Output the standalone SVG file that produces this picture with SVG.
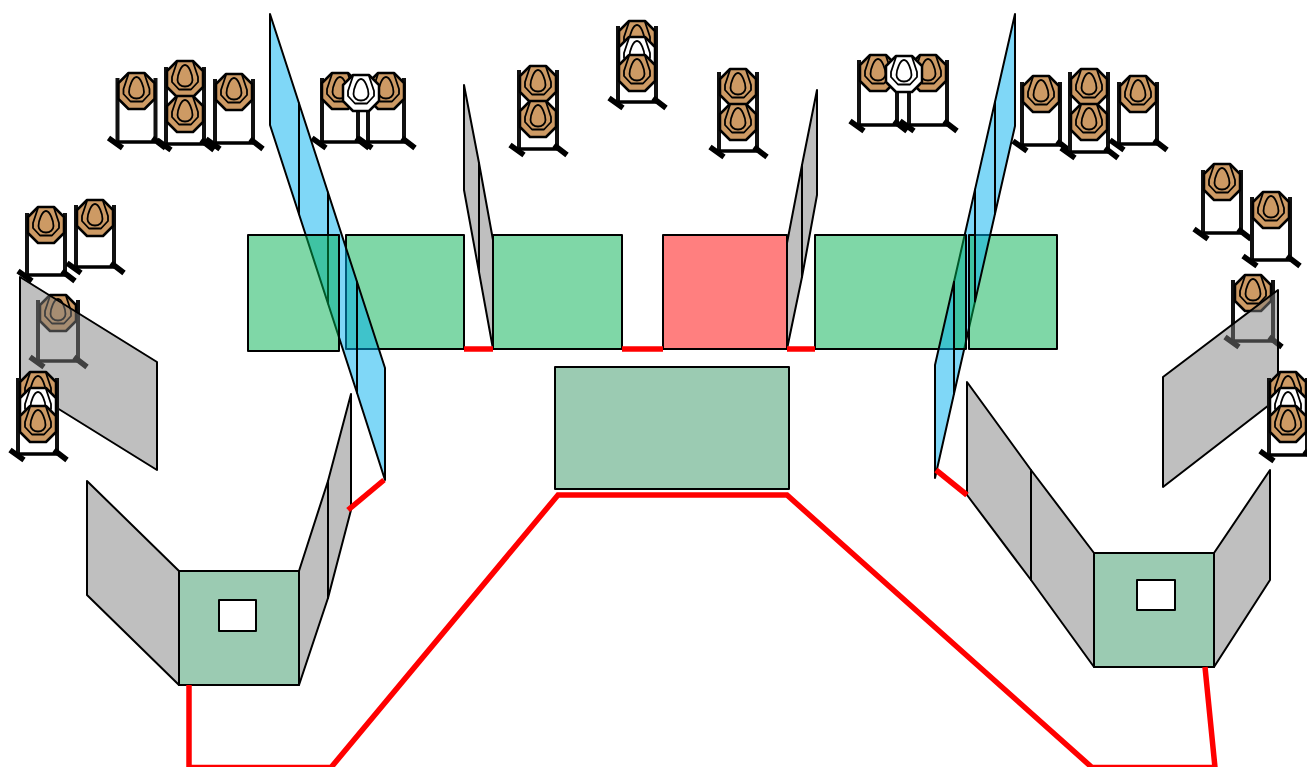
<svg xmlns="http://www.w3.org/2000/svg" xmlns:xlink="http://www.w3.org/1999/xlink" width="1307" height="767" viewBox="0 0 1307 767">
<style>
.panel{stroke:#000;stroke-width:2;stroke-linejoin:round}
.gray{fill:#808080;fill-opacity:.5}
.green{fill:#00b050;fill-opacity:.5}
.teal{fill:#9bcbb2}
.blue{fill:#00aff0;fill-opacity:.5}
.red{fill:#ff0000;fill-opacity:.5}
.win{fill:#fff}
.post{fill:none;stroke:#111;stroke-width:4}
.bar{fill:none;stroke:#000;stroke-width:3.500}
.foot{fill:none;stroke:#000;stroke-width:5.500}
.oct{stroke:#000;stroke-width:2.500;stroke-linejoin:round}
.in{fill:none;stroke:#000;stroke-width:1.800;stroke-linejoin:round}
.wire{fill:none;stroke:#ff0000;stroke-width:5.500}
</style>
<defs>
<g id="base">
<path class="bar" d="M-19,-1H19"/>
<path class="foot" d="M-28,-5L-14,5M16,-5L29,5"/>
</g>
<g id="plate">
<path class="oct" fill="#cd9a64" d="M-8,-17H8L18,-7V9L8,19H-8L-18,9V-7Z"/>
<path class="in" d="M-8,-16L-13,-1V4L-6,11.500H6L13,4V-1L8,-16"/>
<path class="in" d="M0,-13C-4,-13-7.500,-3-7.500,2C-7.500,6-4,8.500 0,8.500C4,8.500 7.500,6 7.500,2C7.500,-3 4,-13 0,-13Z"/>
</g>
<g id="wplate">
<path class="oct" fill="#fff" d="M-8,-17H8L18,-7V9L8,19H-8L-18,9V-7Z"/>
<path class="in" d="M-8,-16L-13,-1V4L-6,11.500H6L13,4V-1L8,-16"/>
<path class="in" d="M0,-13C-4,-13-7.500,-3-7.500,2C-7.500,6-4,8.500 0,8.500C4,8.500 7.500,6 7.500,2C7.500,-3 4,-13 0,-13Z"/>
</g>
</defs>

<g id="target-tl1" transform="translate(136.500,143)"><path class="post" d="M-19,-65V0M19,-65V0"/><use href="#base"/><use href="#plate" y="-53"/></g>
<g id="target-tl2" transform="translate(185,145)"><path class="post" d="M-19,-78V0M19,-78V0"/><use href="#base"/><use href="#plate" y="-67"/><use href="#plate" y="-32"/></g>
<g id="target-tl3" transform="translate(234,144)"><path class="post" d="M-19,-65V0M19,-65V0"/><use href="#base"/><use href="#plate" y="-53"/></g>
<g id="target-a" transform="translate(340,143)"><path class="post" d="M-18,-65V0M18,-65V0"/><use href="#base"/><use href="#plate" y="-53"/></g>
<g id="target-b" transform="translate(386,143)"><path class="post" d="M-18,-65V0M18,-65V0"/><use href="#base"/><use href="#plate" y="-53"/></g>
<g id="target-ab-white" transform="translate(361,92)"><use href="#wplate"/></g>
<g id="target-m1" transform="translate(538,150)"><path class="post" d="M-19,-80V0M19,-80V0"/><use href="#base"/><use href="#plate" y="-67"/><use href="#plate" y="-32"/></g>
<g id="target-m2" transform="translate(637,103)"><path class="post" d="M-19,-77V0M19,-77V0"/><use href="#base"/><use href="#plate" y="-65"/><use href="#wplate" y="-49"/><use href="#plate" y="-31"/></g>
<g id="target-m3" transform="translate(738,152)"><path class="post" d="M-19,-80V0M19,-80V0"/><use href="#base"/><use href="#plate" y="-66"/><use href="#plate" y="-31"/></g>
<g id="target-c" transform="translate(878,126)"><path class="post" d="M-19,-66V0M19,-66V0"/><use href="#base"/><use href="#plate" y="-54"/></g>
<g id="target-d" transform="translate(928,126)"><path class="post" d="M-19,-66V0M19,-66V0"/><use href="#base"/><use href="#plate" y="-54"/></g>
<g id="target-cd-white" transform="translate(904,73)"><use href="#wplate"/></g>
<g id="target-tr1" transform="translate(1041,146)"><path class="post" d="M-19,-64V0M19,-64V0"/><use href="#base"/><use href="#plate" y="-53"/></g>
<g id="target-tr2" transform="translate(1089,153)"><path class="post" d="M-19,-81V0M19,-81V0"/><use href="#base"/><use href="#plate" y="-67"/><use href="#plate" y="-32"/></g>
<g id="target-tr3" transform="translate(1138,145)"><path class="post" d="M-19,-63V0M19,-63V0"/><use href="#base"/><use href="#plate" y="-52"/></g>
<g id="target-r1" transform="translate(1222,234)"><path class="post" d="M-19,-64V0M19,-64V0"/><use href="#base"/><use href="#plate" y="-53"/></g>
<g id="target-r2" transform="translate(1271,261)"><path class="post" d="M-19,-64V0M19,-64V0"/><use href="#base"/><use href="#plate" y="-52"/></g>
<g id="target-r3" transform="translate(1253,345)"><path class="post" d="M-20,-65V-3M20,-65V-3"/><g transform="translate(0,-3)"><use href="#base"/></g><use href="#plate" y="-53"/></g>
<g id="target-l1" transform="translate(46,276)"><path class="post" d="M-19,-63V0M19,-63V0"/><use href="#base"/><use href="#plate" y="-52"/></g>
<g id="target-l2" transform="translate(95,268)"><path class="post" d="M-19,-63V0M19,-63V0"/><use href="#base"/><use href="#plate" y="-51"/></g>
<g id="target-l3" transform="translate(58,362)"><path class="post" d="M-20,-62V0M20,-62V0"/><use href="#base"/><use href="#plate" y="-50"/></g>

<g id="room-right-green-b"><rect class="panel green" x="346" y="235" width="118" height="114"/></g>
<g id="wall-left-seg3"><path class="panel blue" d="M328,192.500L357,281.800V392.800L328,303.500Z"/></g>
<g id="wall-left-seg2"><path class="panel blue" d="M299,103.300L328,192.500V303.500L299,214.300Z"/></g>
<g id="room-left-green"><rect class="panel green" x="248" y="235" width="91" height="116"/></g>
<g id="wall-left-seg4"><path class="panel blue" d="M357,281.800L385,368V480L357,392.800Z"/></g>
<g id="wall-left-seg1"><path class="panel blue" d="M270,14L299,103.300V214.300L270,125Z"/></g>

<g id="wall-right-seg3"><path class="panel blue" d="M975,189.600L954,281.800V393.800L975,301.600Z"/></g>
<g id="room-green-e"><rect class="panel green" x="815" y="235" width="151" height="114"/></g>
<g id="room-green-f"><rect class="panel green" x="969" y="235" width="88" height="114"/></g>
<g id="wall-right-seg1"><path class="panel blue" d="M1015,14L995,101.800V213.800L1015,126Z"/></g>
<g id="wall-right-seg2"><path class="panel blue" d="M995,101.800L975,189.600V301.600L995,213.800Z"/></g>
<g id="wall-right-seg4"><path class="panel blue" d="M954,281.800L935,365V478L954,393.800Z"/></g>

<g id="room-green-c"><rect class="panel green" x="493" y="235" width="129" height="114"/></g>
<g id="room-red"><rect class="panel red" x="663" y="235" width="124" height="114"/></g>
<g id="room-center"><rect class="panel teal" x="555" y="367" width="234" height="122"/></g>
<g id="wall-mid-l1"><path class="panel gray" d="M464,85L479,163V272L464,190Z"/></g>
<g id="wall-mid-l2"><path class="panel gray" d="M479,163L493,240V349L479,272Z"/></g>
<g id="wall-mid-r1"><path class="panel gray" d="M817,90L802,165V277L817,195Z"/></g>
<g id="wall-mid-r2"><path class="panel gray" d="M802,165L787,243V349L802,277Z"/></g>

<g id="wall-far-left"><path class="panel gray" d="M20,277L157,362V470L20,385Z"/></g>
<g id="wall-far-right"><path class="panel gray" d="M1163,377L1278,290V398L1163,487Z"/></g>

<g id="target-l4" transform="translate(38,455)"><path class="post" d="M-20,-77V0M19,-77V0"/><use href="#base"/><use href="#plate" y="-66"/><use href="#wplate" y="-50"/><use href="#plate" y="-32"/></g>
<g id="target-r4" transform="translate(1288,456)"><path class="post" d="M-19,-78V0M19,-78V0"/><use href="#base"/><use href="#plate" y="-67"/><use href="#wplate" y="-51"/><use href="#plate" y="-33"/></g>

<g id="booth-left">
<path class="panel gray" d="M87,481L179,571V685L87,595Z"/>
<path class="panel gray" d="M299,571L328,481V598L299,685Z"/>
<path class="panel gray" d="M328,481L351,394V510L328,598Z"/>
<rect class="panel teal" x="179" y="571" width="120" height="114"/>
<rect class="panel win" x="219" y="600" width="37" height="31"/>
</g>
<g id="booth-right">
<path class="panel gray" d="M967,382L1031,470V580L967,495Z"/>
<path class="panel gray" d="M1031,470L1094,553V667L1031,580Z"/>
<path class="panel gray" d="M1214,553L1270,470V580L1214,667Z"/>
<rect class="panel teal" x="1094" y="553" width="120" height="114"/>
<rect class="panel win" x="1137" y="580" width="38" height="30"/>
</g>

<g id="connectors">
<path class="wire" d="M189,685V767.500H331L558,495H787L1092,767.500H1215L1205,667"/>
<path class="wire" d="M464,349H493"/>
<path class="wire" d="M622,349H663"/>
<path class="wire" d="M787,349H815"/>
<path class="wire" d="M348,510L384,480"/>
<path class="wire" d="M936,470L967,495"/>
</g>
</svg>
